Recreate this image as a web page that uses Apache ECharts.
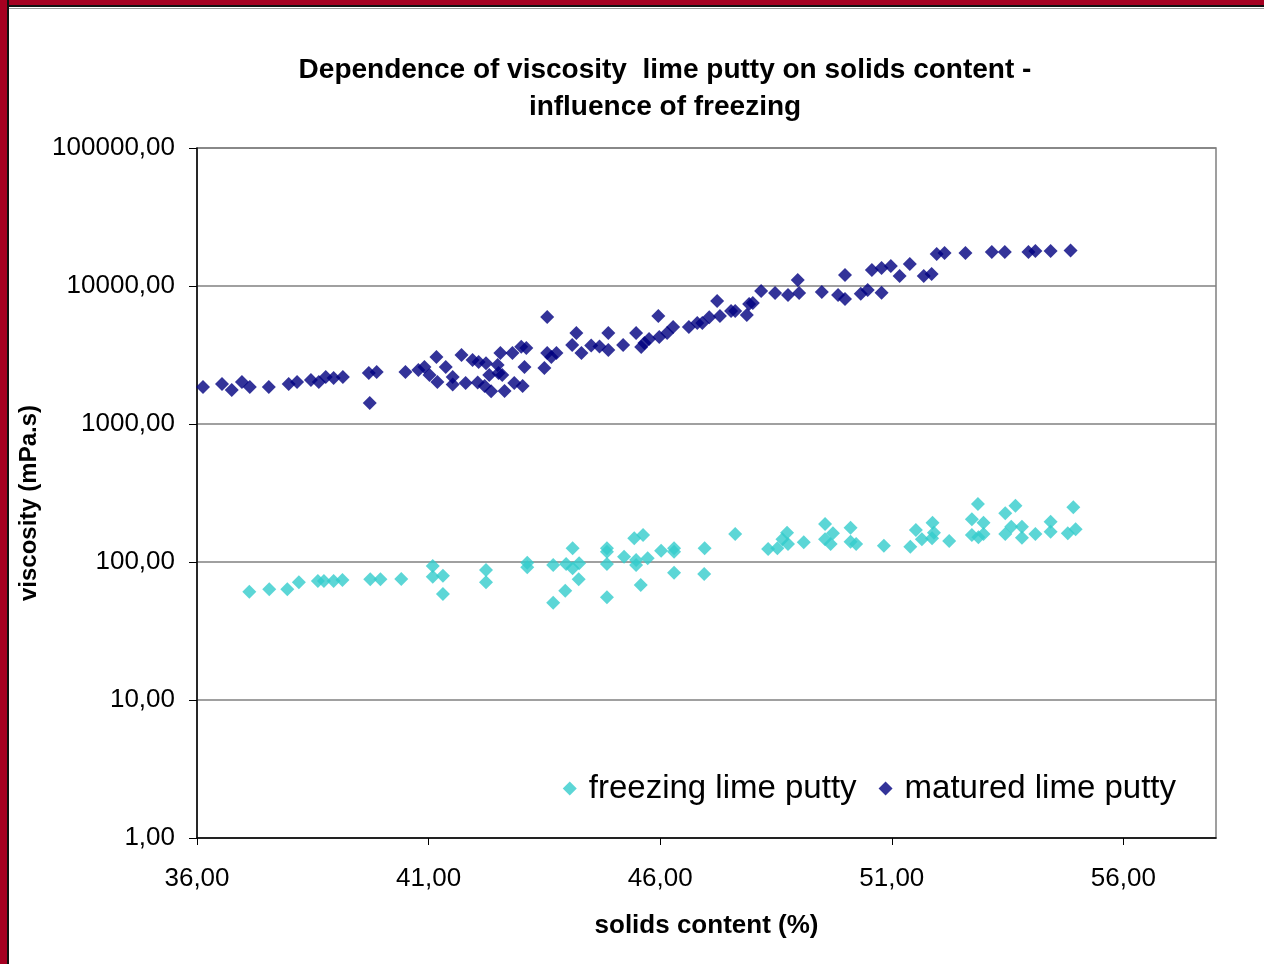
<!DOCTYPE html>
<html>
<head>
<meta charset="utf-8">
<script src="https://cdn.jsdelivr.net/npm/echarts@6/dist/echarts.min.js"></script>
<style>
  html, body { margin: 0; padding: 0; background: #fff; }
  #chart { width: 1264px; height: 964px; }
  .band-left { position: absolute; left: 0; top: 0; width: 7px; height: 964px; background: #a50021; border-right: 2px solid #111; }
  .band-top { position: absolute; left: 0; top: 0; width: 1264px; height: 5px; background: #a50021; border-bottom: 2px solid #111; }
  .band-top-line { position: absolute; left: 9px; top: 8px; width: 1255px; height: 1px; background: #999; }
</style>
</head>
<body>
<div id="chart"></div>
<div class="band-top"></div>
<div class="band-top-line"></div>
<div class="band-left"></div>
<script>
// 1. data (solids content %, viscosity mPa.s)
const freezing = [
  [37.13,60.9],[37.56,63.4],[37.95,63.4],[38.20,71.3],[38.61,72.8],[38.74,72.8],[38.95,72.8],[39.14,74.1],
  [39.74,74.9],[39.96,74.9],[40.41,75.3],[41.09,93.5],[41.09,78.3],[41.31,79.6],[41.31,58.6],[42.24,87.5],
  [42.24,71.3],[43.13,98.8],[43.13,91.5],[43.69,50.7],[43.69,95.1],[43.95,61.9],[43.97,96.7],[44.11,125.7],
  [44.11,90.0],[44.24,74.9],[44.25,97.9],[44.85,125.7],[44.85,118.8],[44.85,96.7],[44.85,55.5],[45.22,109.2],
  [45.44,148.5],[45.63,156.9],[45.48,103.4],[45.48,95.1],[45.58,68.1],[45.73,106.4],[46.02,120.8],[46.30,125.7],
  [46.30,118.8],[46.30,83.6],[46.96,125.7],[46.95,81.8],[47.62,159.6],[48.33,124.2],[48.53,125.7],[48.64,146.0],
  [48.74,163.1],[48.76,135.0],[49.10,138.9],[49.56,188.6],[49.56,146.0],[49.73,161.4],[49.68,135.0],[50.11,177.3],
  [50.11,140.4],[50.23,135.0],[50.83,131.3],[51.40,129.1],[51.52,170.6],[51.65,146.0],[51.88,192.7],[51.91,163.1],
  [51.87,148.5],[52.24,142.0],[52.73,203.9],[52.86,263.2],[52.98,192.7],[52.73,156.9],[52.87,151.0],[52.98,159.6],
  [53.45,225.4],[53.67,255.9],[53.45,159.6],[53.58,180.3],[53.81,180.3],[53.81,150.0],[54.10,159.6],[54.43,195.9],
  [54.43,165.8],[54.92,249.1],[54.80,161.4],[54.97,172.6]
];
const matured = [
  [36.13,1854],[36.54,1950],[36.75,1764],[36.97,2015],[37.14,1854],[37.55,1854],[37.98,1950],[38.16,2015],
  [38.46,2084],[38.63,2015],[38.78,2191],[38.95,2154],[39.15,2191],[39.71,2342],[39.88,2381],[39.73,1420],
  [40.50,2381],[40.78,2462],[40.91,2588],[41.02,2265],[41.17,3060],[41.19,2015],[41.37,2588],[41.52,2191],
  [41.52,1930],[41.71,3160],[41.80,1982],[41.95,2910],[42.08,2815],[42.06,2000],[42.24,2750],[42.31,2265],
  [42.35,1730],[42.21,1886],[42.55,3270],[42.49,2676],[42.51,2342],[42.59,2265],[42.64,1735],[42.81,3270],
  [42.85,1982],[43.03,1886],[43.00,3625],[43.11,3550],[43.07,2588],[43.50,2546],[43.56,3270],[43.65,3060],
  [43.76,3270],[43.56,5960],[44.10,3735],[44.19,4565],[44.30,3270],[44.51,3700],[44.69,3650],[44.88,4565],
  [44.88,3440],[45.20,3735],[45.48,4565],[45.59,3615],[45.66,3865],[45.76,4130],[45.96,6060],[45.98,4270],
  [46.15,4565],[46.28,5045],[46.62,5045],[46.80,5395],[46.91,5395],[47.06,5935],[47.23,7790],[47.29,6060],
  [47.53,6590],[47.62,6590],[47.87,6170],[47.92,7405],[48.00,7530],[48.18,9200],[48.48,8900],[48.76,8610],
  [48.97,11050],[49.00,8900],[49.49,9050],[49.84,8610],[49.99,12000],[49.99,8050],[50.33,8800],[50.48,9350],
  [50.78,8950],[50.57,13060],[50.78,13500],[50.98,13960],[51.17,11820],[51.39,14430],[51.69,11820],[51.86,12220],
  [51.97,17060],[52.14,17340],[52.59,17340],[53.16,17640],[53.44,17640],[53.95,17640],[54.10,17900],[54.43,17900],
  [54.86,18100]
];
const xTicks = [36, 41, 46, 51, 56];

const fmt = v => Number(v).toFixed(2).replace('.', ',');
const font = 'Liberation Sans, Arial, sans-serif';

// 2. chart
const chart = echarts.init(document.getElementById('chart'));
chart.setOption({
  backgroundColor: '#fff',
  animation: false,
  textStyle: { fontFamily: font },
  title: {
    text: 'Dependence of viscosity  lime putty on solids content -\ninfluence of freezing',
    left: 660,
    top: 47,
    textAlign: 'center',
    textStyle: { fontSize: 28, fontWeight: 'bold', color: '#000', lineHeight: 37, fontFamily: font }
  },
  legend: {
    right: 83,
    top: 767,
    icon: 'diamond',
    itemWidth: 14,
    itemHeight: 14,
    itemGap: 22,
    textStyle: { fontSize: 33, color: '#000', fontFamily: font, padding: [0, 0, 0, 7] },
    data: ['freezing lime putty', 'matured lime putty']
  },
  grid: {
    left: 197, right: 48, top: 148, bottom: 126,
    show: true, borderColor: '#808080', borderWidth: 1.5
  },
  xAxis: {
    type: 'value',
    min: 36, max: 58, interval: 5,
    name: 'solids content (%)',
    nameLocation: 'middle',
    nameGap: 75,
    nameTextStyle: { fontSize: 26, fontWeight: 'bold', color: '#000', fontFamily: font },
    axisLine: { lineStyle: { color: '#000', width: 1.5 } },
    axisTick: { show: true, length: 7, lineStyle: { color: '#000' }, customValues: xTicks },
    axisLabel: { fontSize: 26, color: '#000', margin: 28, formatter: fmt, customValues: xTicks },
    splitLine: { show: false }
  },
  yAxis: {
    type: 'log',
    logBase: 10,
    min: 1, max: 100000,
    name: 'viscosity (mPa.s)',
    nameLocation: 'middle',
    nameGap: 152,
    nameTextStyle: { fontSize: 24, fontWeight: 'bold', color: '#000', fontFamily: font, padding: [0, 20, 0, 0] },
    axisLine: { show: true, lineStyle: { color: '#000', width: 1.5 } },
    axisTick: { show: true, length: 8, lineStyle: { color: '#000' } },
    axisLabel: { fontSize: 26, color: '#000', margin: 22, formatter: fmt },
    splitLine: { show: true, lineStyle: { color: '#808080', width: 1.5 } },
    minorTick: { show: false }
  },
  series: [
    {
      name: 'freezing lime putty',
      type: 'scatter',
      symbol: 'diamond',
      symbolSize: 14,
      itemStyle: { color: '#33cccc' },
      data: freezing
    },
    {
      name: 'matured lime putty',
      type: 'scatter',
      symbol: 'diamond',
      symbolSize: 14,
      itemStyle: { color: '#000080' },
      data: matured
    }
  ]
});
</script>
</body>
</html>
